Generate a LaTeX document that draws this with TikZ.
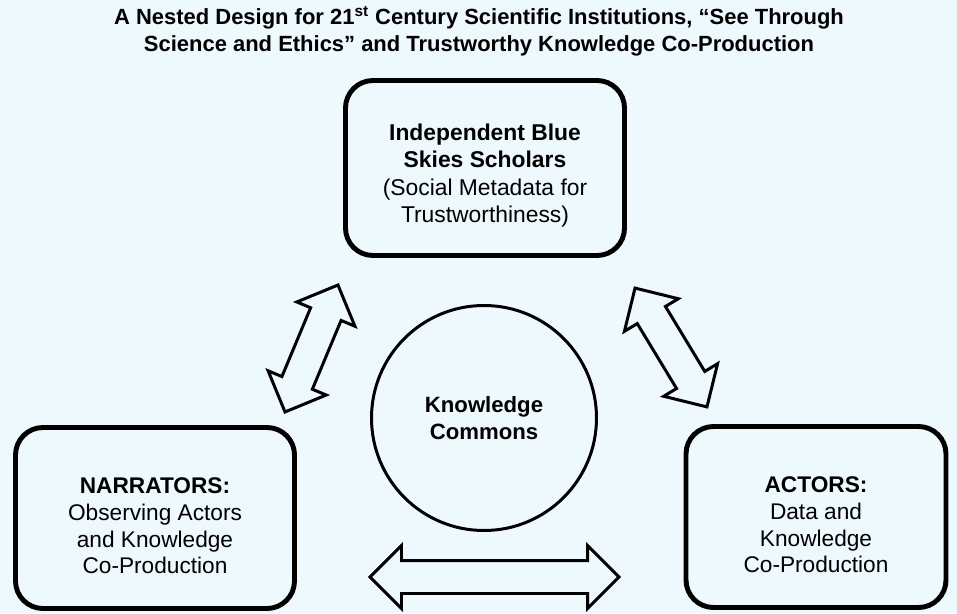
\documentclass[tikz,border=0pt]{standalone}
\usepackage{fontspec}
\setmainfont{Liberation Sans}
\usepackage{tikz}
\usetikzlibrary{calc,shapes.arrows}
\definecolor{fondito}{RGB}{238,249,253}
\newcommand{\boxtext}{\fontsize{12.9}{15.2}\selectfont}
\newcommand{\tstrut}{\rule{0pt}{18pt}}
\newcommand{\dblarrow}[3]{\path let \p1=($(#3)-(#2)$), \n1={atan2(\y1,\x1)}, \n2={veclen(\x1,\y1)} in node[twoway, minimum height=\n2, rotate=\n1] (#1) at ($(#2)!0.5!(#3)$) {};}
\tikzset{>=stealth,
	rbox/.style={draw, line width=2.8pt, rounded corners=0.55cm, align=center, font=\boxtext},
	twoway/.style={draw, line width=1.7pt, shape=double arrow, double arrow head extend=0.3cm, double arrow tip angle=90, minimum width=1.2cm, inner xsep=0pt, inner ysep=0.3cm}}

\begin{document}
\begin{tikzpicture}

	\fill[fondito] (0,0) rectangle (19.14,12.26);

	\node[align=center, font=\bfseries\fontsize{12.5}{15.3}\selectfont] (title) at (9.58,11.63)
		{A Nested Design for 21\textsuperscript{st} Century Scientific Institutions, “See Through\\Science and Ethics” and Trustworthy Knowledge Co-Production};

	\node[rbox, minimum width=5.58cm, minimum height=3.5cm, font=\fontsize{13}{15.6}\selectfont] (scholars) at (9.70,8.90)
		{\tstrut\textbf{Independent Blue}\\\textbf{Skies Scholars}\\(Social Metadata for\\Trustworthiness)};
	\node[rbox, minimum width=5.58cm, minimum height=3.62cm] (narrators) at (3.10,1.90)
		{\tstrut\textbf{NARRATORS:}\\Observing Actors\\and Knowledge\\Co-Production};
	\node[rbox, minimum width=5.2cm, minimum height=3.62cm] (actors) at (16.32,1.92)
		{\tstrut\textbf{ACTORS:}\\Data and\\Knowledge\\Co-Production};
	\node[draw, circle, line width=1.7pt, minimum size=4.5cm, align=center, font=\bfseries\fontsize{12.6}{15.3}\selectfont] (commons) at (9.68,3.90)
		{Knowledge\\Commons};

	% two-way arrows
	\coordinate (ln1) at (5.70,4.02);
	\coordinate (ln2) at (6.76,6.56);
	\coordinate (rt1) at (12.70,6.50);
	\coordinate (rt2) at (14.14,4.12);
	\coordinate (bt1) at (7.40,0.72);
	\coordinate (bt2) at (12.38,0.72);
	\dblarrow{leftarr}{ln1}{ln2}
	\dblarrow{rightarr}{rt1}{rt2}
	\dblarrow{bottomarr}{bt1}{bt2}

\end{tikzpicture}
\end{document}
